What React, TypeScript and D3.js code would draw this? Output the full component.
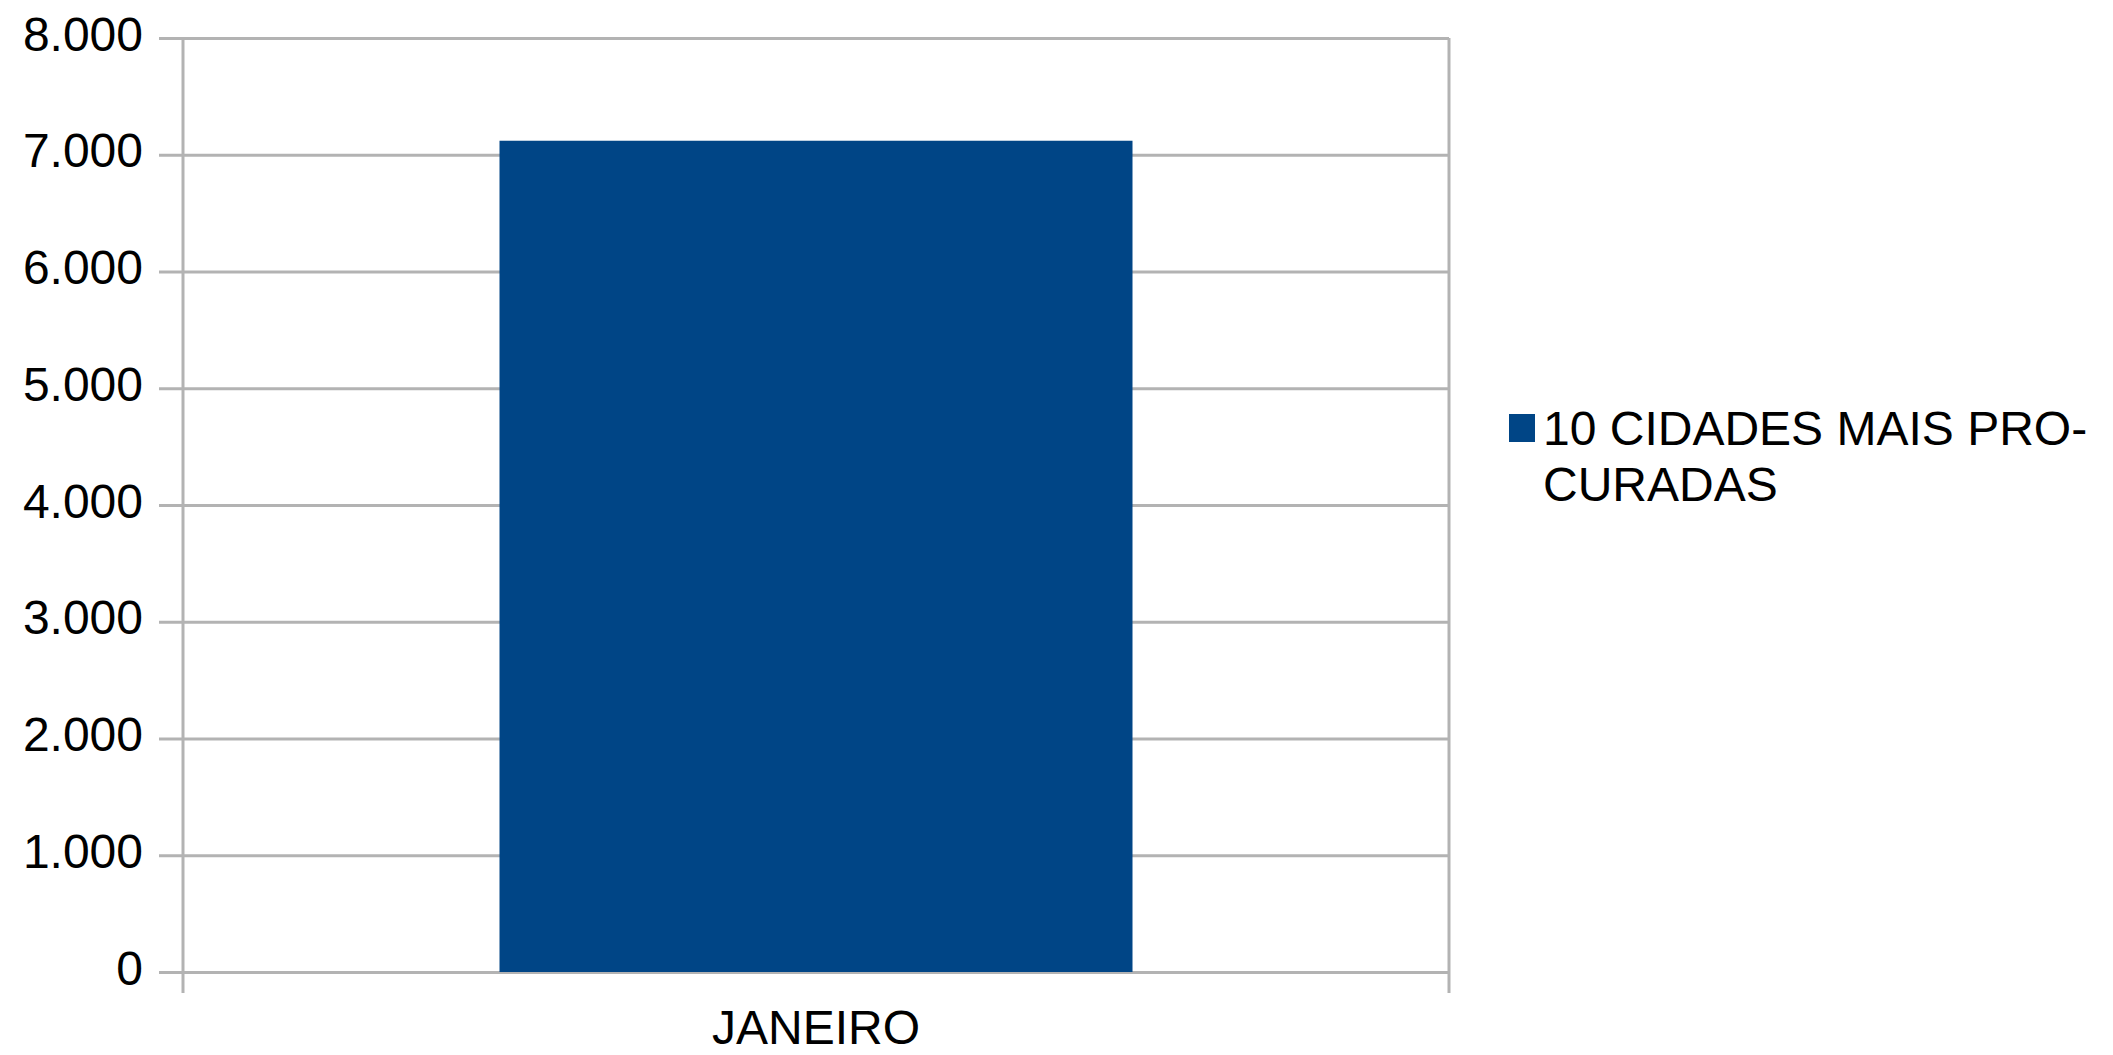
import { useEffect, useRef } from "react";
import * as d3 from "d3";

// chart values
const categories = ["JANEIRO"];
const seriesName = ["10 CIDADES MAIS PRO-", "CURADAS"];
const values = [7120];
const yTicks = [0, 1000, 2000, 3000, 4000, 5000, 6000, 7000, 8000];

const width = 2113;
const height = 1055;

const margin = {
    top: 38,
    right: 664,
    bottom: 83,
    left: 183,
};

const gridColor = "#b3b3b3";
const barColor = "#004586";
const font = "'Liberation Sans', Arial, sans-serif";

// brazilian style thousand separator: 8.000
const ptBR = d3.formatLocale({
    decimal: ",",
    thousands: ".",
    grouping: [3],
    currency: ["R$", ""],
});
const fmt = ptBR.format(",d");

export default function App() {
    const gRef = useRef<SVGGElement | null>(null);

    useEffect(() => {
        document.body.style.margin = "0";

        const plotW = width - margin.left - margin.right;
        const plotH = height - margin.top - margin.bottom;

        // bar takes half of the category slot
        const xScale = d3.scaleBand<string>()
            .domain(categories)
            .range([0, plotW])
            .paddingInner(0.5)
            .paddingOuter(0.25);

        const yScale = d3.scaleLinear()
            .domain([0, 8000])
            .range([plotH, 0]);

        const g = d3.select(gRef.current)
            .attr("transform", `translate(${margin.left}, ${margin.top})`);

        g.selectAll("*").remove();

        // y axis drawn from the right edge so the ticks become the gridlines
        const yAxis = g.append("g")
            .attr("transform", `translate(${plotW},0)`)
            .call(d3.axisLeft(yScale)
                .tickValues(yTicks)
                .tickFormat((d) => fmt(d as number))
                .tickSize(plotW + 24)
                .tickPadding(16));
        yAxis.select(".domain").remove();
        yAxis.selectAll(".tick line")
            .attr("stroke", gridColor)
            .attr("stroke-width", 3);
        yAxis.selectAll(".tick text")
            .attr("dy", "0.25em")
            .style("font-family", font)
            .style("font-size", "48px")
            .attr("fill", "#000");

        // category boundaries (left axis + right edge), run past the base line
        const edges = [xScale.range()[0], xScale.range()[1]];
        g.selectAll(".edge")
            .data(edges)
            .join("line")
            .attr("class", "edge")
            .attr("x1", (d) => d)
            .attr("x2", (d) => d)
            .attr("y1", 0)
            .attr("y2", plotH + 21)
            .attr("stroke", gridColor)
            .attr("stroke-width", 3);

        g.selectAll(".bar")
            .data(values)
            .join("rect")
            .attr("class", "bar")
            .attr("x", (_, i) => xScale(categories[i]) as number)
            .attr("y", (d) => yScale(d))
            .attr("width", xScale.bandwidth())
            .attr("height", (d) => plotH - yScale(d))
            .attr("fill", barColor);

        g.selectAll(".xlabel")
            .data(categories)
            .join("text")
            .attr("class", "xlabel")
            .attr("x", (d) => (xScale(d) as number) + xScale.bandwidth() / 2)
            .attr("y", plotH + 72)
            .attr("text-anchor", "middle")
            .style("font-family", font)
            .style("font-size", "48px")
            .attr("fill", "#000")
            .text((d) => d);

        // legend
        const legend = g.append("g")
            .attr("transform", `translate(${plotW + 60}, ${376})`);
        legend.append("rect")
            .attr("x", 0)
            .attr("y", 0)
            .attr("width", 26)
            .attr("height", 28)
            .attr("fill", barColor);
        legend.selectAll("text")
            .data(seriesName)
            .join("text")
            .attr("x", 34)
            .attr("y", (_, i) => 31 + i * 56)
            .style("font-family", font)
            .style("font-size", "48px")
            .attr("fill", "#000")
            .text((d) => d);
    }, []);

    return (
        <svg width={width} height={height} style={{ display: "block", background: "#fff" }}>
            <g ref={gRef}></g>
        </svg>
    );
}
